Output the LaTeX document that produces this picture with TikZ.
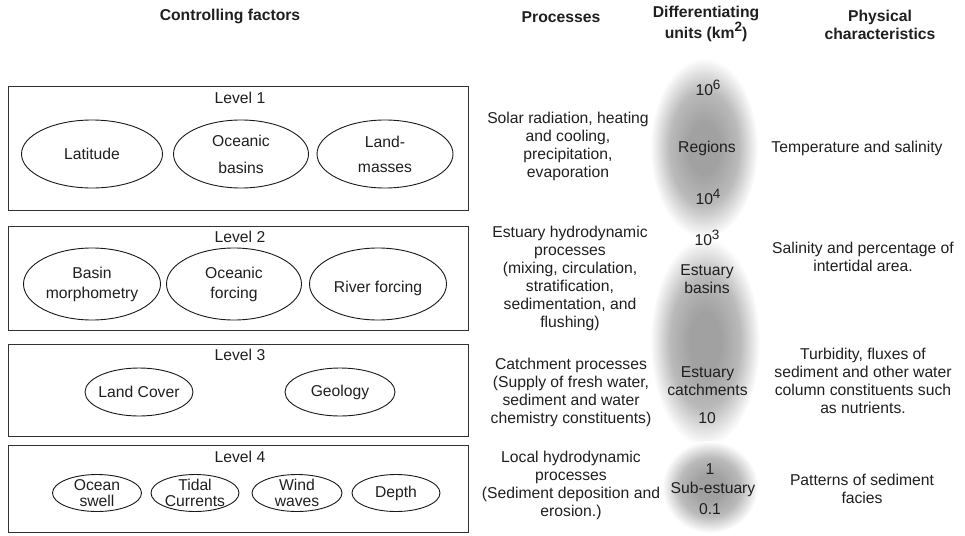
\documentclass[tikz,border=0pt]{standalone}
\usepackage{fontspec}
\setmainfont{Liberation Sans}
\usetikzlibrary{shapes.geometric}
\colorlet{blobc}{black!37}
\colorlet{blobm}{black!27}
\pgfdeclareradialshading{blob}{\pgfpoint{0bp}{0bp}}{color(0bp)=(blobc); color(7bp)=(blobc); color(16bp)=(blobm); color(25bp)=(white); color(50bp)=(white)}
\newcommand{\fs}{\fontsize{15.7}{18}\selectfont}
\newcommand{\supx}[1]{\raisebox{6.5pt}{\fontsize{13.5}{13.5}\selectfont #1}}
\begin{document}
\begin{tikzpicture}[x=1pt,y=-1pt,
  txt/.style={inner sep=0pt, align=center, font=\fs, text=black!88},
  hdr/.style={inner sep=0pt, align=center, font=\fs\bfseries, text=black!88},
  levelbox/.style={draw=black!80, line width=0.9pt, minimum width=460pt, inner sep=0pt},
  ell/.style={draw=black!90, line width=0.9pt, ellipse, inner sep=0pt}
]
\useasboundingbox (0,0) rectangle (965,535);

% shaded blobs
\shade[shading=blob] (704,148) ellipse (54 and 90);
\shade[shading=blob] (705,342) ellipse (55 and 104);
\shade[shading=blob] (710,487) ellipse (48 and 46);

% headers
\node[hdr] (hcf) at (230,16) {Controlling factors};
\node[hdr] (hpr) at (561,17) {Processes};
\node[hdr] (hdu) at (706,24) {Differentiating\\units (km\supx{2})};
\node[hdr] (hpc) at (880,25) {Physical\\characteristics};

% level boxes
\node[levelbox, minimum height=124pt] (box1) at (238,148) {};
\node[levelbox, minimum height=104pt] (box2) at (238,278) {};
\node[levelbox, minimum height=92pt] (box3) at (238,390) {};
\node[levelbox, minimum height=87pt] (box4) at (238,488.5) {};

\node[txt] (lv1) at (240,98) {Level 1};
\node[txt] (lv2) at (240,237) {Level 2};
\node[txt] (lv3) at (240,355) {Level 3};
\node[txt] (lv4) at (240,457) {Level 4};

% Level 1 ellipses
\node[ell, minimum width=141pt, minimum height=68pt] (lat) at (92,154) {};
\node[txt] at (lat) {Latitude};
\node[ell, minimum width=135pt, minimum height=68pt] (ocb) at (241,154) {};
\node[txt, font=\fontsize{15.7}{27}\selectfont] at (ocb) {Oceanic\\basins};
\node[ell, minimum width=136pt, minimum height=68pt] (lmd) at (385,154) {};
\node[txt, font=\fontsize{15.7}{25}\selectfont] at (lmd) {Land-\\masses};

% Level 2 ellipses
\node[ell, minimum width=137pt, minimum height=72pt] (bmo) at (92,284) {};
\node[txt, font=\fontsize{15.7}{20}\selectfont] at (bmo) {Basin\\morphometry};
\node[ell, minimum width=135pt, minimum height=72pt] (ocf) at (234,284) {};
\node[txt, font=\fontsize{15.7}{20}\selectfont] at (ocf) {Oceanic\\forcing};
\node[ell, minimum width=137pt, minimum height=72pt] (rvf) at (378,284) {};
\node[txt] at ([yshift=-4pt]rvf.center) {River forcing};

% Level 3 ellipses
\node[ell, minimum width=108pt, minimum height=48pt] (lco) at (139,392) {};
\node[txt] at (lco) {Land Cover};
\node[ell, minimum width=110pt, minimum height=48pt] (geo) at (340,392) {};
\node[txt] at (geo) {Geology};

% Level 4 ellipses
\node[ell, minimum width=89pt, minimum height=37pt] (osw) at (97,493) {};
\node[txt, font=\fontsize{15.7}{15.5}\selectfont] at (osw) {Ocean\\swell};
\node[ell, minimum width=88pt, minimum height=37pt] (tcu) at (195,493) {};
\node[txt, font=\fontsize{15.7}{15.5}\selectfont] at (tcu) {Tidal\\Currents};
\node[ell, minimum width=90pt, minimum height=37pt] (wwa) at (297,493) {};
\node[txt, font=\fontsize{15.7}{15.5}\selectfont] at (wwa) {Wind\\waves};
\node[ell, minimum width=88pt, minimum height=37pt] (dep) at (396,493) {};
\node[txt] at (dep) {Depth};

% Processes
\node[txt] (p1) at (568,146) {Solar radiation, heating\\and cooling,\\precipitation,\\evaporation};
\node[txt] (p2) at (570,278) {Estuary hydrodynamic\\processes\\(mixing, circulation,\\stratification,\\sedimentation, and\\flushing)};
\node[txt] (p3) at (571,392) {Catchment processes\\(Supply of fresh water,\\sediment and water\\chemistry constituents)};
\node[txt] (p4) at (571,485) {Local hydrodynamic\\processes\\(Sediment deposition and\\erosion.)};

% Differentiating units
\node[txt] (u106) at (708,88) {10\supx{6}};
\node[txt] (ureg) at (707,148) {Regions};
\node[txt] (u104) at (708,197) {10\supx{4}};
\node[txt] (u103) at (707,238) {10\supx{3}};
\node[txt] (ueb) at (707,279) {Estuary\\basins};
\node[txt] (uec) at (707.5,381) {Estuary\\catchments};
\node[txt] (u10) at (707,418) {10};
\node[txt] (u1) at (710,469) {1};
\node[txt] (use) at (713,489) {Sub-estuary};
\node[txt] (u01) at (710,509) {0.1};

% Physical characteristics
\node[txt] (c1) at (857,148) {Temperature and salinity};
\node[txt] (c2) at (863,257) {Salinity and percentage of\\intertidal area.};
\node[txt] (c3) at (863,381) {Turbidity, fluxes of\\sediment and other water\\column constituents such\\as nutrients.};
\node[txt] (c4) at (862,489) {Patterns of sediment\\facies};
\end{tikzpicture}
\end{document}
